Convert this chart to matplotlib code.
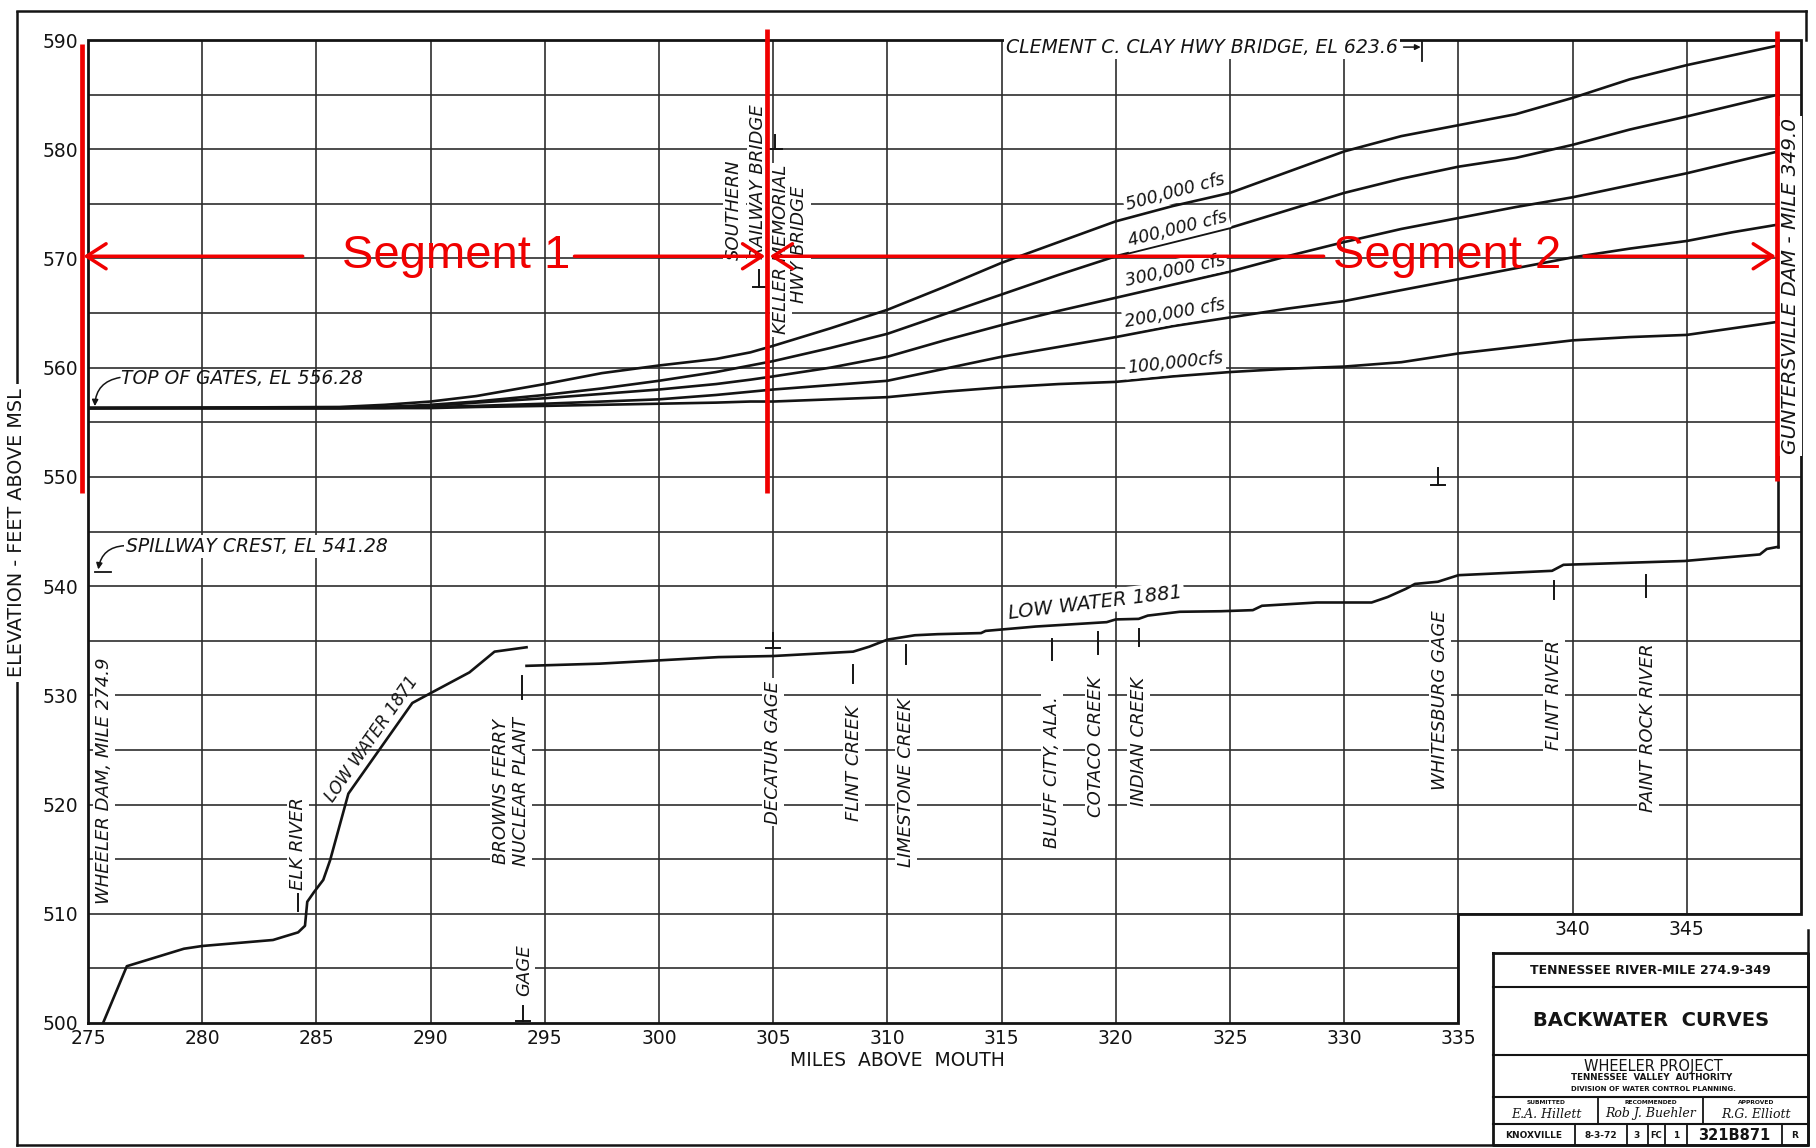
#!/usr/bin/env python3
import matplotlib
matplotlib.use('Agg')
import matplotlib.pyplot as plt

# River miles at which the backwater profiles were read
FLOW_MILES = [275, 286, 288, 290, 292, 295, 297.5, 300, 302.5, 304, 305, 307.5,
              310, 312.5, 315, 317.5, 320, 322.5, 325, 327.5, 330, 332.5, 335,
              337.5, 340, 342.5, 345, 347, 349]

# Water surface elevation (ft above MSL) for each steady discharge
ELEV_500K = [556.3, 556.4, 556.6, 556.9, 557.4, 558.5, 559.5, 560.2, 560.8, 561.4, 562.0, 563.6,
             565.3, 567.4, 569.6, 571.5, 573.4, 574.8, 576.0, 577.9, 579.8, 581.2, 582.2,
             583.2, 584.7, 586.4, 587.7, 588.6, 589.5]
ELEV_400K = [556.3, 556.3, 556.4, 556.6, 556.9, 557.5, 558.1, 558.8, 559.6, 560.2, 560.6, 561.8,
             563.1, 564.9, 566.7, 568.5, 570.2, 571.5, 572.8, 574.4, 576.0, 577.3, 578.4,
             579.2, 580.4, 581.8, 583.0, 584.0, 585.0]
ELEV_300K = [556.3, 556.3, 556.4, 556.5, 556.8, 557.2, 557.6, 558.0, 558.5, 558.9, 559.2, 560.0,
             561.0, 562.5, 563.9, 565.2, 566.4, 567.6, 568.8, 570.2, 571.5, 572.7, 573.7,
             574.7, 575.6, 576.7, 577.8, 578.8, 579.8]
ELEV_200K = [556.3, 556.3, 556.3, 556.4, 556.5, 556.7, 556.9, 557.1, 557.5, 557.8, 558.0, 558.4,
             558.8, 559.9, 561.0, 561.9, 562.8, 563.8, 564.6, 565.4, 566.1, 567.1, 568.1,
             569.1, 570.1, 570.9, 571.6, 572.4, 573.1]
ELEV_100K = [556.3, 556.3, 556.3, 556.3, 556.4, 556.5, 556.6, 556.7, 556.8, 556.9, 556.9, 557.1,
             557.3, 557.8, 558.2, 558.5, 558.7, 559.2, 559.6, 559.9, 560.1, 560.5, 561.3,
             561.9, 562.5, 562.8, 563.0, 563.6, 564.2]
FLOW_LABELS = ['500,000 cfs', '400,000 cfs', '300,000 cfs', '200,000 cfs', '100,000cfs']

# Historic low water profiles
LW1871_MILES = [275.66, 276.7, 279.2, 280.0, 283.1, 284.2, 284.5, 284.6, 284.9, 285.3,
                285.6, 286.4, 289.2, 290.0, 291.7, 292.8, 294.2]
LW1871_ELEV = [500.0, 505.2, 506.8, 507.05, 507.6, 508.3, 508.9, 511.1, 512.0, 513.1,
               514.9, 521.0, 529.3, 530.2, 532.1, 534.0, 534.4]
LW1881_MILES = [294.2, 297.4, 300, 302.6, 305, 308.5, 309.2, 310, 311.2, 312.2, 314.1, 314.3,
                316.5, 319.6, 320, 321.0, 321.4, 322.8, 324.6, 326.0, 326.4, 328.8, 331.2,
                331.9, 332.7, 333.1, 334.1, 335.0, 339.1, 339.6, 344.9, 348.2, 348.5, 349.0]
LW1881_ELEV = [532.7, 532.9, 533.2, 533.5, 533.6, 534.0, 534.45, 535.1, 535.5, 535.6, 535.7, 535.9,
               536.3, 536.7, 536.95, 537.0, 537.3, 537.65, 537.7, 537.8, 538.2, 538.5, 538.5,
               539.0, 539.75, 540.2, 540.4, 541.0, 541.4, 541.95, 542.3, 542.9, 543.4, 543.6]

WHEELER_MILE = 274.9
GUNTERSVILLE_MILE = 349.0
TOP_OF_GATES = 556.28
SPILLWAY_CREST = 541.28

INK = '#141414'
LETTER = dict(family='DejaVu Sans', style='oblique', color=INK)
WHITE_BOX = dict(facecolor='white', edgecolor='none', pad=1.5)
RED = '#f00000'


def draw_grid(ax):
    """Drafting grid; the lower right corner is left open for the title block."""
    grid = dict(color='#2e2e2e', lw=1.2, zorder=1)
    for m in range(280, 350, 5):
        lo = 500 if m <= 335 else 510
        ax.plot([m, m], [lo, 590], **grid)
    for e in range(505, 590, 5):
        hi = 335 if e < 510 else 350
        ax.plot([275, hi], [e, e], **grid)
    ax.plot([275, 335, 335, 350, 350, 275, 275], [500, 500, 510, 510, 590, 590, 500],
            color=INK, lw=2.0, solid_joinstyle='miter', clip_on=False, zorder=2)


def draw_profiles(ax):
    """Backwater curves, low water profiles and the dam line."""
    for elev, label, (lm, le, rot) in zip(
            [ELEV_500K, ELEV_400K, ELEV_300K, ELEV_200K, ELEV_100K], FLOW_LABELS,
            [(322.6, 576.1, 15), (322.7, 572.7, 14), (322.6, 568.9, 12),
             (322.6, 565.0, 10), (322.6, 560.4, 6)]):
        ax.plot(FLOW_MILES, elev, color=INK, lw=1.9, zorder=3)
        ax.text(lm, le, label, rotation=rot, ha='center', va='center', fontsize=12.5,
                bbox=WHITE_BOX, zorder=4, **LETTER)

    ax.plot(LW1871_MILES, LW1871_ELEV, color=INK, lw=1.9, zorder=3)
    ax.plot(LW1881_MILES, LW1881_ELEV, color=INK, lw=1.9, zorder=3)
    ax.plot([GUNTERSVILLE_MILE, GUNTERSVILLE_MILE], [LW1881_ELEV[-1], 590], color=INK, lw=1.9, zorder=3)

    ax.text(287.4, 526.0, 'LOW WATER 1871', rotation=55, ha='center', va='center',
            fontsize=12, zorder=4, **LETTER)
    ax.text(319.1, 538.5, 'LOW WATER 1881', rotation=7, ha='center', va='center',
            fontsize=14, bbox=WHITE_BOX, zorder=4, **LETTER)


def draw_stations(ax):
    """Vertical station names along the river with their location ticks."""
    labels = [
        ('WHEELER DAM, MILE 274.9', 275.7, 522.2),
        ('ELK RIVER', 284.2, 516.4),
        ('BROWNS FERRY', 293.1, 521.2),
        ('NUCLEAR PLANT', 293.95, 521.2),
        ('GAGE', 294.1, 504.8),
        ('DECATUR GAGE', 305.0, 524.8),
        ('FLINT CREEK', 308.55, 523.8),
        ('LIMESTONE CREEK', 310.8, 522.0),
        ('BLUFF CITY, ALA.', 317.2, 523.0),
        ('COTACO CREEK', 319.15, 525.3),
        ('INDIAN CREEK', 321.0, 525.8),
        ('WHITESBURG GAGE', 334.2, 529.6),
        ('FLINT RIVER', 339.2, 530.0),
        ('PAINT ROCK RIVER', 343.3, 527.0),
        ('SOUTHERN', 303.3, 574.5),
        ('RAILWAY BRIDGE', 304.35, 577.0),
        ('KELLER MEMORIAL', 305.35, 570.8),
        ('HWY BRIDGE', 306.15, 571.3),
    ]
    for text, m, e in labels:
        ax.text(m, e, text, rotation=90, ha='center', va='center', fontsize=13,
                bbox=WHITE_BOX, zorder=4, **LETTER)
    ax.text(349.55, 567.5, 'GUNTERSVILLE DAM - MILE 349.0', rotation=90, ha='center',
            va='center', fontsize=14.5, bbox=WHITE_BOX, zorder=4, **LETTER)

    ticks = [(284.2, 510.3, 511.8, False), (294.0, 529.7, 531.8, False),
             (294.05, 500.2, 501.6, True), (305.0, 534.3, 535.7, True),
             (308.5, 531.1, 532.8, False), (310.8, 532.9, 534.6, False),
             (317.2, 533.2, 535.2, False), (319.2, 533.8, 535.8, False),
             (321.0, 534.5, 536.1, False), (334.1, 549.3, 550.8, True),
             (339.2, 538.8, 540.5, False), (343.2, 539.0, 541.0, False),
             (304.4, 567.4, 568.9, True), (305.1, 580.0, 581.3, True)]
    for m, lo, hi, base in ticks:
        ax.plot([m, m], [lo, hi], color=INK, lw=1.4, zorder=5)
        if base:
            ax.plot([m - 0.3, m + 0.3], [lo, lo], color=INK, lw=1.4, zorder=5)


def draw_notes(ax):
    """Reference elevations written on the sheet."""
    ax.text(276.45, 559.0, 'TOP OF GATES, EL 556.28', ha='left', va='center',
            fontsize=13.5, zorder=4, **LETTER)
    ax.annotate('', xy=(275.3, TOP_OF_GATES + 0.2), xytext=(276.4, 559.1),
                arrowprops=dict(arrowstyle='-|>', connectionstyle='arc3,rad=0.4',
                                color=INK, lw=1.1, mutation_scale=9, shrinkA=0, shrinkB=0))

    ax.text(276.65, 543.6, 'SPILLWAY CREST, EL 541.28', ha='left', va='center',
            fontsize=13.5, bbox=WHITE_BOX, zorder=4, **LETTER)
    ax.annotate('', xy=(275.45, SPILLWAY_CREST + 0.25), xytext=(276.6, 543.7),
                arrowprops=dict(arrowstyle='-|>', connectionstyle='arc3,rad=0.4',
                                color=INK, lw=1.1, mutation_scale=9, shrinkA=0, shrinkB=0))
    ax.plot([275.3, 276.0], [SPILLWAY_CREST, SPILLWAY_CREST], color=INK, lw=1.3, zorder=4)

    ax.text(315.2, 589.35, 'CLEMENT C. CLAY HWY BRIDGE, EL 623.6', ha='left', va='center',
            fontsize=13.6, bbox=WHITE_BOX, zorder=4, **LETTER)
    ax.annotate('', xy=(333.35, 589.35), xytext=(332.6, 589.35),
                arrowprops=dict(arrowstyle='-|>', color=INK, lw=1.1, mutation_scale=8,
                                shrinkA=0, shrinkB=0))
    ax.plot([333.4, 333.4], [588.1, 590], color=INK, lw=1.3, zorder=4)


def draw_segments(ax):
    """Red markup splitting the reach into two segments."""
    for m, lo, top in [(274.75, 548.5, 589.6), (304.75, 548.5, 591.0), (348.95, 549.6, 590.8)]:
        ax.plot([m, m], [lo, top], color=RED, lw=3.4, zorder=10, clip_on=False,
                solid_capstyle='butt')
    y = 570.2
    head = dict(arrowstyle='->,head_length=0.7,head_width=0.45', color=RED, lw=2.5,
                mutation_scale=20, shrinkA=0, shrinkB=0)
    for start, tip in [(284.4, 274.8), (296.3, 304.65), (329.1, 304.85), (340.5, 348.9)]:
        ax.annotate('', xy=(tip, y), xytext=(start, y), arrowprops=head, zorder=10,
                    annotation_clip=False)
    seg = dict(color=RED, fontsize=34, family='Liberation Sans', ha='center', va='center', zorder=10)
    ax.text(291.1, y, 'Segment 1', **seg)
    ax.text(334.5, y, 'Segment 2', **seg)


def draw_sheet(bg):
    """Sheet border, axis caption and title block in pixel coordinates."""
    k = dict(color=INK, lw=1.8)
    bg.plot([17, 17], [12, 1145], **k)
    bg.plot([17, 1806], [11, 11], **k)
    bg.plot([17, 1806], [1145, 1145], **k)
    bg.plot([1806, 1806], [11, 40], **k)
    bg.plot([1808, 1808], [930, 1145], **k)
    bg.text(17, 533, 'ELEVATION - FEET ABOVE MSL', rotation=90, ha='center', va='center',
            fontsize=13.8, color=INK, bbox=dict(facecolor='white', edgecolor='none', pad=3))
    bg.text(897, 1061, 'MILES  ABOVE  MOUTH', ha='center', va='center', fontsize=13.5, color=INK)

    # title block
    x0, x1 = 1493, 1808
    bg.plot([x0, x1, x1, x0, x0], [953, 953, 1145, 1145, 953], color=INK, lw=2.0)
    for y in (987, 1055, 1097, 1124):
        bg.plot([x0, x1], [y, y], color=INK, lw=1.5)
    for x in (1598, 1703):
        bg.plot([x, x], [1097, 1124], color=INK, lw=1.3)
    for x in (1575, 1627, 1648, 1665, 1687, 1782):
        bg.plot([x, x], [1124, 1145], color=INK, lw=1.3)

    t = dict(ha='center', va='center', color=INK, family='DejaVu Sans')
    bg.text(1650, 970, 'TENNESSEE RIVER-MILE 274.9-349', fontsize=9, weight='bold', **t)
    bg.text(1651, 1021, 'BACKWATER  CURVES', fontsize=14, weight='bold', **t)
    bg.text(1653, 1066, 'WHEELER PROJECT', fontsize=10.5, **t)
    bg.text(1652, 1077.5, 'TENNESSEE  VALLEY  AUTHORITY', fontsize=6.3, weight='bold', **t)
    bg.text(1653, 1089, 'DIVISION OF WATER CONTROL PLANNING.', fontsize=5, weight='bold', **t)
    for x, head, sign in [(1546, 'SUBMITTED', 'E.A. Hillett'),
                          (1651, 'RECOMMENDED', 'Rob J. Buehler'),
                          (1756, 'APPROVED', 'R.G. Elliott')]:
        bg.text(x, 1102, head, fontsize=4.3, weight='bold', **t)
        bg.text(x, 1114, sign, fontsize=9, style='italic',
                ha='center', va='center', color=INK, family='DejaVu Serif')
    for x, txt, fs in [(1534, 'KNOXVILLE', 6.5), (1601, '8-3-72', 6.5), (1637, '3', 6.5),
                       (1656, 'FC', 6.0), (1676, '1', 6.5), (1734, '321B871', 10.5),
                       (1795, 'R', 6.5)]:
        bg.text(x, 1135, txt, fontsize=fs, weight='bold', **t)


def main():
    fig = plt.figure(figsize=(18.16, 11.48), dpi=100)
    fig.patch.set_facecolor('white')

    bg = fig.add_axes([0, 0, 1, 1])
    bg.set_xlim(0, 1816)
    bg.set_ylim(1148, 0)
    bg.axis('off')

    ax = fig.add_axes([88 / 1816, 1 - 1023 / 1148, (1801 - 88) / 1816, (1023 - 40) / 1148], zorder=2)
    ax.patch.set_visible(False)
    ax.set_xlim(275, 350)
    ax.set_ylim(500, 590)
    for s in ax.spines.values():
        s.set_visible(False)
    ax.set_xticks(range(275, 340, 5))
    ax.set_yticks(range(500, 600, 10))
    ax.tick_params(length=0, labelsize=13.5, labelcolor=INK)
    ax.tick_params(axis='x', pad=4)
    ax.tick_params(axis='y', pad=7)
    for m in (340, 345):
        ax.text(m, 509.4, str(m), ha='center', va='top', fontsize=13.5, color=INK)

    draw_grid(ax)
    draw_profiles(ax)
    draw_stations(ax)
    draw_notes(ax)
    draw_segments(ax)
    draw_sheet(bg)

    fig.savefig('out.png', dpi=100, facecolor='white')


if __name__ == '__main__':
    main()
